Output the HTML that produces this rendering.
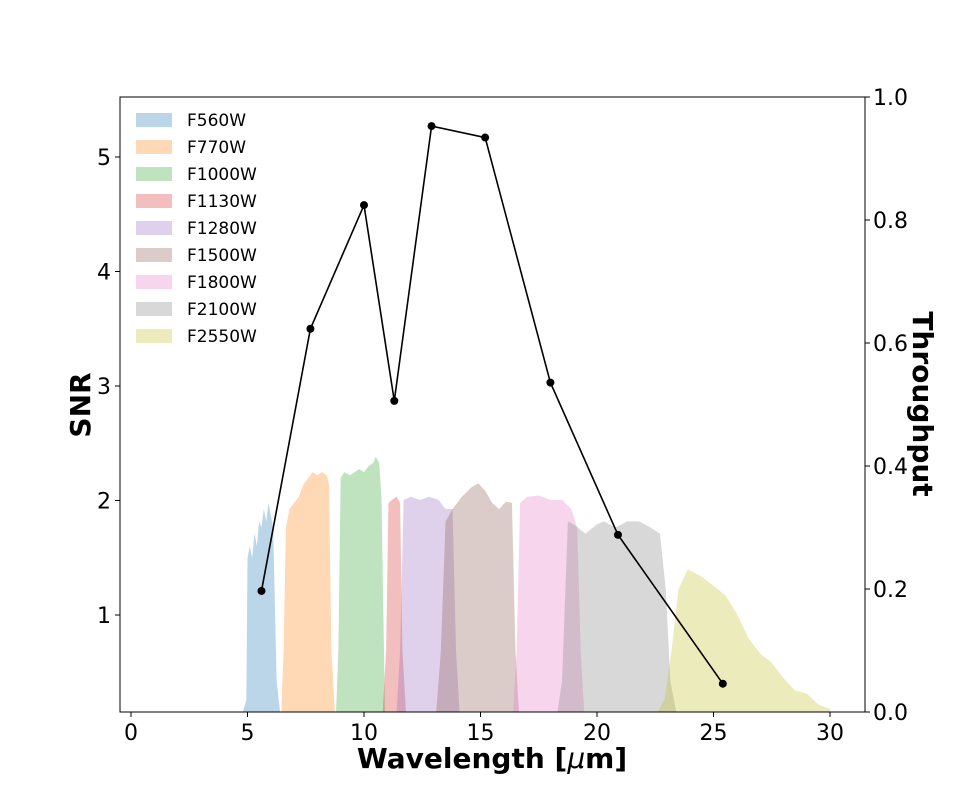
<!DOCTYPE html>
<html><head><meta charset="utf-8"><style>
body{margin:0;background:#fff}
svg text{font-family:"DejaVu Sans","Liberation Sans",sans-serif}
</style></head><body>
<svg id="chart" width="960" height="800" xmlns="http://www.w3.org/2000/svg">
<g id="fills"></g><g id="line"></g><g id="axes"></g><g id="legend"></g>
</svg>
<script>
const filterNames=["F560W","F770W","F1000W","F1130W","F1280W","F1500W","F1800W","F2100W","F2550W"];
const filterColors=["#1f77b4","#ff7f0e","#2ca02c","#d62728","#9467bd","#8c564b","#e377c2","#7f7f7f","#bcbd22"];
const wF560=[4.8,4.95,5.0,5.1,5.2,5.3,5.4,5.5,5.6,5.7,5.8,5.9,6.0,6.1,6.25,6.4];
const tF560=[0,0.02,0.25,0.27,0.25,0.29,0.27,0.31,0.3,0.33,0.31,0.34,0.32,0.3,0.05,0];
const wF770=[6.45,6.55,6.65,6.8,7.0,7.2,7.4,7.6,7.8,8.0,8.2,8.4,8.5,8.6,8.75];
const tF770=[0,0.1,0.3,0.33,0.34,0.35,0.37,0.38,0.39,0.385,0.39,0.385,0.37,0.1,0];
const wF1000=[8.8,8.9,9.0,9.15,9.4,9.6,9.8,10.0,10.2,10.4,10.5,10.65,10.75,10.9];
const tF1000=[0,0.1,0.38,0.39,0.385,0.39,0.395,0.39,0.4,0.405,0.415,0.405,0.35,0];
const wF1130=[10.8,10.95,11.05,11.2,11.4,11.55,11.65,11.8];
const tF1130=[0,0.1,0.34,0.345,0.35,0.34,0.1,0];
const wF1280=[11.4,11.55,11.7,12.0,12.4,12.8,13.2,13.5,13.8,13.95,14.1];
const tF1280=[0,0.1,0.345,0.35,0.345,0.35,0.345,0.33,0.33,0.1,0];
const wF1500=[13.1,13.3,13.5,13.8,14.2,14.6,14.9,15.2,15.5,15.8,16.1,16.35,16.5,16.65];
const tF1500=[0,0.1,0.31,0.33,0.35,0.365,0.372,0.36,0.34,0.33,0.342,0.34,0.1,0];
const wF1800=[16.4,16.55,16.7,17.0,17.5,18.0,18.5,18.9,19.15,19.3,19.45];
const tF1800=[0,0.1,0.34,0.35,0.352,0.345,0.345,0.33,0.3,0.1,0];
const wF2100=[18.3,18.5,18.75,19.0,19.5,20.0,20.3,20.8,21.3,21.8,22.3,22.7,22.95,23.15,23.4];
const tF2100=[0,0.05,0.31,0.305,0.29,0.305,0.31,0.3,0.31,0.31,0.3,0.29,0.2,0.05,0];
const wF2550=[22.6,22.9,23.2,23.5,23.9,24.5,25.0,25.5,26.0,26.5,27.0,27.5,28.0,28.5,29.0,29.5,30.0];
const tF2550=[0,0.02,0.1,0.2,0.232,0.22,0.205,0.19,0.16,0.12,0.095,0.08,0.055,0.035,0.03,0.012,0.005];
const filterW=[wF560,wF770,wF1000,wF1130,wF1280,wF1500,wF1800,wF2100,wF2550];
const filterT=[tF560,tF770,tF1000,tF1130,tF1280,tF1500,tF1800,tF2100,tF2550];
const snrX=[5.6,7.7,10.0,11.3,12.9,15.2,18.0,20.9,25.4];
const snrY=[1.21,3.5,4.58,2.87,5.27,5.17,3.03,1.7,0.4];
const xTicks=[0,5,10,15,20,25,30];
const yTicks=[1,2,3,4,5];
const rTicks=[0.0,0.2,0.4,0.6,0.8,1.0];

const L=120,R=865,T=97,B=712;
const sx=v=>131+v*(830-131)/30;
const sy=v=>615-(v-1)*(615-157)/4;
const st=v=>B-v*(B-T);
const NS="http://www.w3.org/2000/svg";
function mk(parent,tag,attrs){const e=document.createElementNS(NS,tag);for(const k in attrs)e.setAttribute(k,attrs[k]);parent.appendChild(e);return e;}
const gF=document.getElementById('fills'),gL=document.getElementById('line'),gA=document.getElementById('axes'),gG=document.getElementById('legend');

let d=snrX.map((x,i)=>(i?'L':'M')+sx(x)+','+sy(snrY[i])).join('');
const pl=mk(gL,'path',{d:d,fill:'none',stroke:'#000','stroke-width':1.6});


snrX.forEach((x,i)=>{
  const c=mk(gL,'circle',{cx:sx(x),cy:sy(snrY[i]),r:4,fill:'#000'});
  
  
});
filterNames.forEach((n,i)=>{
  const w=filterW[i],t=filterT[i];
  let p='M'+sx(w[0])+','+B+w.map((x,j)=>'L'+sx(x)+','+st(t[j])).join('')+'L'+sx(w[w.length-1])+','+B+'Z';
  const e=mk(gF,'path',{d:p,fill:filterColors[i],'fill-opacity':0.3});
  
  
});
const fr=mk(gA,'rect',{x:L,y:T,width:R-L,height:B-T,fill:'none',stroke:'#000','stroke-width':1});


xTicks.forEach(v=>{
  mk(gA,'line',{x1:sx(v),x2:sx(v),y1:B,y2:B+5,stroke:'#000'});
  const t=mk(gA,'text',{x:sx(v),y:B+28,'text-anchor':'middle','font-size':22});t.textContent=v;
  
  
});
yTicks.forEach(v=>{
  mk(gA,'line',{x1:L-5,x2:L,y1:sy(v),y2:sy(v),stroke:'#000'});
  const t=mk(gA,'text',{x:L-9,y:sy(v)+8,'text-anchor':'end','font-size':22});t.textContent=v;
  
  
});
rTicks.forEach(v=>{
  mk(gA,'line',{x1:R,x2:R+5,y1:st(v),y2:st(v),stroke:'#000'});
  const t=mk(gA,'text',{x:R+8,y:st(v)+8,'font-size':22});t.textContent=v.toFixed(1);
  
  
});
const xt=mk(gA,'text',{x:492,y:768,'text-anchor':'middle','font-size':28,'font-weight':'bold'});
xt.innerHTML='Wavelength [<tspan font-style="italic" font-weight="normal">μ</tspan>m]';


const yt=mk(gA,'text',{x:0,y:0,'text-anchor':'middle','font-size':28,'font-weight':'bold',transform:'translate(90,405) rotate(-90)'});
yt.textContent='SNR';


const rt=mk(gA,'text',{x:0,y:0,'text-anchor':'middle','font-size':28,'font-weight':'bold',transform:'translate(913,404) rotate(90)'});
rt.textContent='Throughput';


filterNames.forEach((n,i)=>{
  const y=120+i*27;
  const r=mk(gG,'rect',{x:136,y:y-7,width:36,height:14,fill:filterColors[i],'fill-opacity':0.3});
  
  
  const t=mk(gG,'text',{x:187,y:y+6,'font-size':17});t.textContent=n;
  
  
});
</script>
</body></html>
